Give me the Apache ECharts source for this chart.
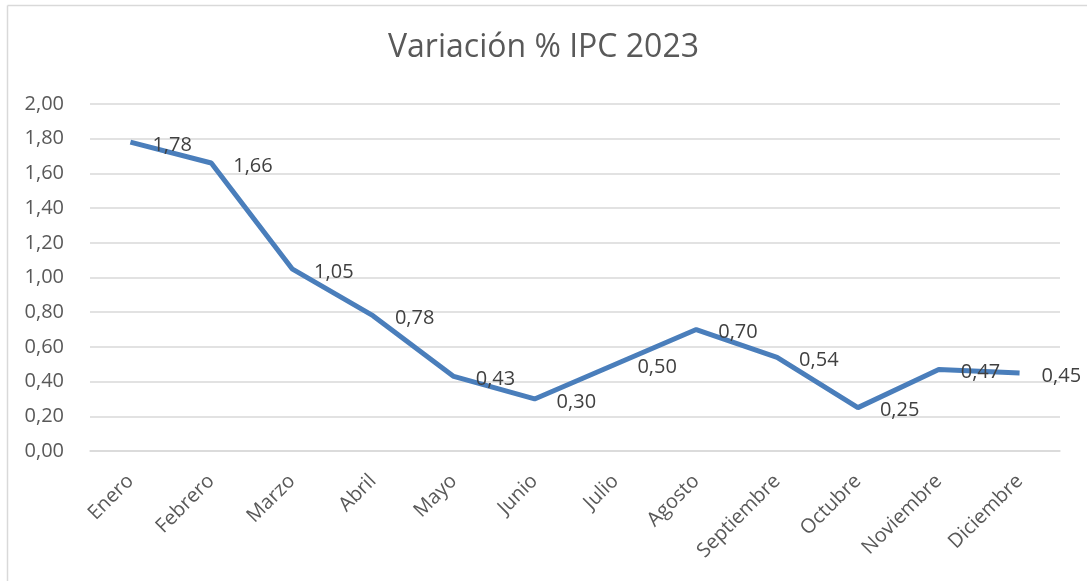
<!DOCTYPE html>
<html>
<head>
<meta charset="utf-8">
<script src="https://cdn.jsdelivr.net/npm/echarts@6/dist/echarts.min.js"></script>
<style>
html,body{margin:0;padding:0;background:#fff;}
#chart{width:1087px;height:581px;}
</style>
</head>
<body>
<div id="chart"></div>
<script>
const titleText = 'Variación % IPC 2023';
const categories = ['Enero','Febrero','Marzo','Abril','Mayo','Junio','Julio','Agosto','Septiembre','Octubre','Noviembre','Diciembre'];
const ipcValues = [1.78, 1.66, 1.05, 0.78, 0.43, 0.30, 0.50, 0.70, 0.54, 0.25, 0.47, 0.45];

const fmt = v => Number(v).toFixed(2).replace('.', ',');
const chart = echarts.init(document.getElementById('chart'), null, {renderer: 'canvas'});
chart.setOption({
  backgroundColor: '#ffffff',
  animation: false,
  title: {
    text: titleText,
    left: 'center',
    top: 27,
    padding: [5, 0, 5, 8],
    textStyle: {fontFamily: 'Open Sans', fontWeight: 'normal', fontSize: 32, color: '#595959'}
  },
  graphic: [
    {type: 'line', shape: {x1: 7.5, y1: 5.5, x2: 1087, y2: 5.5}, style: {stroke: '#d9d9d9', lineWidth: 1.5}},
    {type: 'line', shape: {x1: 7.5, y1: 5.5, x2: 7.5, y2: 581}, style: {stroke: '#d9d9d9', lineWidth: 1.5}}
  ],
  grid: {left: 90, right: 27, top: 104, bottom: 130, containLabel: false},
  xAxis: {
    type: 'category',
    data: categories,
    boundaryGap: true,
    axisLine: {show: true, lineStyle: {color: '#d9d9d9', width: 1.5}},
    axisTick: {show: false},
    axisLabel: {rotate: 45, margin: 27, color: '#595959', fontFamily: 'Open Sans', fontSize: 20, interval: 0}
  },
  yAxis: {
    type: 'value',
    min: 0, max: 2, interval: 0.2,
    axisLine: {show: false},
    axisTick: {show: false},
    splitLine: {lineStyle: {color: '#d9d9d9', width: 1.5}},
    axisLabel: {formatter: fmt, color: '#595959', fontFamily: 'Open Sans', fontSize: 20, margin: 26}
  },
  series: [{
    type: 'line',
    data: ipcValues,
    symbol: 'circle',
    symbolSize: 0,
    showSymbol: true,
    lineStyle: {color: '#4a7ebb', width: 5},
    itemStyle: {color: '#4a7ebb'},
    label: {
      show: true,
      position: 'right',
      distance: 22,
      offset: [0, 3],
      formatter: p => fmt(p.value),
      color: '#404040',
      fontFamily: 'Open Sans',
      fontSize: 20
    }
  }]
});
</script>
</body>
</html>
